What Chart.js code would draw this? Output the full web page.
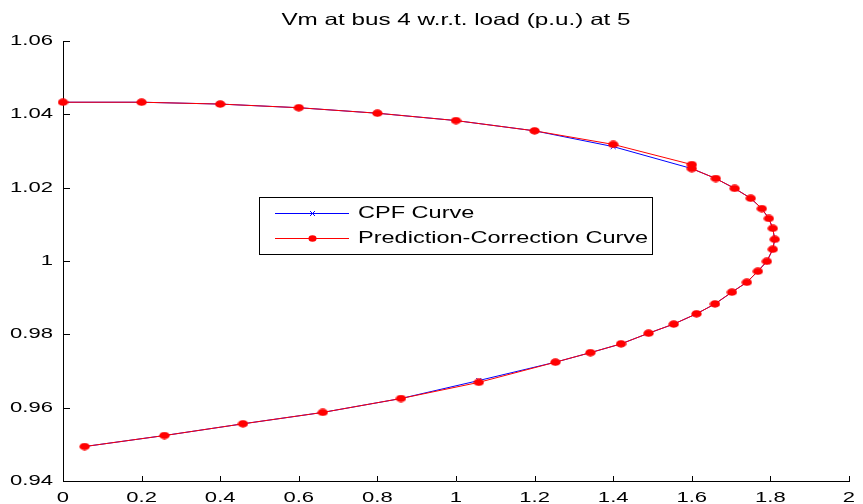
<!DOCTYPE html>
<html>
<head>
<meta charset="utf-8">
<script src="https://cdn.jsdelivr.net/npm/chart.js@4/dist/chart.umd.min.js"></script>
<style>
html,body{margin:0;padding:0;background:#fff;}
#wrap{width:863px;height:504px;}
</style>
</head>
<body>
<div id="wrap"><canvas id="c" width="863" height="504"></canvas></div>
<script>
// ---- data ----
const chartTitle = 'Vm at bus 4 w.r.t. load (p.u.) at 5';
const seriesNames = ['CPF Curve', 'Prediction-Correction Curve'];

const cpfX = [0,0.2,0.4,0.6,0.8,1.0,1.2,1.4,1.6,1.661,1.709,1.750,1.778,1.796,1.806,1.811,1.806,1.791,1.768,1.740,1.702,1.659,1.612,1.554,1.490,1.420,1.342,1.253,1.058,0.860,0.661,0.458,0.258,0.055];
const cpfY = [1.0433,1.0433,1.0428,1.0418,1.0403,1.0383,1.0355,1.0312,1.0252,1.0225,1.0198,1.0171,1.0143,1.0116,1.0089,1.0059,1.0032,0.9999,0.9972,0.9942,0.9915,0.9883,0.9856,0.9828,0.9803,0.9774,0.9750,0.9724,0.9674,0.9625,0.9587,0.9556,0.9524,0.9494];

const pcX = [0,0.2,0.4,0.6,0.8,1.0,1.2,1.4,1.6,1.6,1.661,1.709,1.750,1.778,1.796,1.806,1.811,1.806,1.791,1.768,1.740,1.702,1.659,1.612,1.554,1.490,1.420,1.342,1.253,1.058,0.860,0.661,0.458,0.258,0.055];
const pcY = [1.0433,1.0433,1.0428,1.0418,1.0403,1.0383,1.0355,1.0318,1.0263,1.0252,1.0225,1.0198,1.0171,1.0143,1.0116,1.0089,1.0059,1.0032,0.9999,0.9972,0.9942,0.9915,0.9883,0.9856,0.9828,0.9803,0.9774,0.9750,0.9724,0.9669,0.9625,0.9587,0.9556,0.9524,0.9494];

const xTickValues = [0,0.2,0.4,0.6,0.8,1,1.2,1.4,1.6,1.8,2];
const xTickLabels = ['0','0.2','0.4','0.6','0.8','1','1.2','1.4','1.6','1.8','2'];
const yTickValues = [0.94,0.96,0.98,1,1.02,1.04,1.06];
const yTickLabels = ['0.94','0.96','0.98','1','1.02','1.04','1.06'];

// ---- styling ----
const FONT = '"Liberation Sans", Arial, sans-serif';
const STRETCH = 1.47;
const BLUE = '#0000ff';
const RED = '#ff0000';

const canvas = document.getElementById('c');
const ctx = canvas.getContext('2d');
// text in the reference is horizontally stretched
const origFillText = ctx.fillText;
ctx.fillText = function(t, x, y, mw) {
  this.save();
  this.translate(x, y);
  this.scale(STRETCH, 1);
  origFillText.call(this, t, 0, 0);
  this.restore();
};

function ellipseImage(w, h, color) {
  const c = document.createElement('canvas');
  c.width = w; c.height = h;
  const g = c.getContext('2d');
  g.fillStyle = color;
  g.beginPath();
  g.ellipse(w/2, h/2, w/2 - 0.3, h/2 - 0.3, 0, 0, Math.PI*2);
  g.fill();
  return c;
}
const redDot = ellipseImage(11, 8, RED);

const zip = (xs, ys) => xs.map((x, i) => ({x: x, y: ys[i]}));

const tickPlugin = {
  id: 'inwardTicks',
  afterDraw(chart) {
    const c = chart.ctx;
    const xs = chart.scales.x, ys = chart.scales.y;
    const a = chart.chartArea;
    c.save();
    c.strokeStyle = '#000';
    c.lineWidth = 1;
    c.beginPath();
    xTickValues.forEach(v => {
      const px = Math.round(xs.getPixelForValue(v)) + 0.5;
      c.moveTo(px, a.bottom);
      c.lineTo(px, a.bottom - 5);
    });
    yTickValues.forEach(v => {
      const py = Math.round(ys.getPixelForValue(v)) + 0.5;
      c.moveTo(a.left, py);
      c.lineTo(a.left + 7, py);
    });
    c.stroke();

    // legend box
    const lx = 259.5, ly = 197.5, lw = 393, lh = 57;
    c.fillStyle = '#fff';
    c.fillRect(lx, ly, lw, lh);
    c.strokeStyle = '#000';
    c.strokeRect(lx, ly, lw, lh);
    const rows = [213, 238];
    c.font = '16px ' + FONT;
    c.textAlign = 'left';
    c.textBaseline = 'middle';
    // CPF
    c.strokeStyle = BLUE;
    c.beginPath();
    c.moveTo(275, rows[0] + 0.5); c.lineTo(349, rows[0] + 0.5);
    c.moveTo(310, rows[0] - 2); c.lineTo(315, rows[0] + 3);
    c.moveTo(315, rows[0] - 2); c.lineTo(310, rows[0] + 3);
    c.stroke();
    // PC
    c.strokeStyle = RED;
    c.beginPath();
    c.moveTo(275, rows[1] + 0.5); c.lineTo(349, rows[1] + 0.5);
    c.stroke();
    c.fillStyle = RED;
    c.beginPath();
    c.ellipse(312.5, rows[1] + 0.5, 4, 3.2, 0, 0, Math.PI*2);
    c.fill();
    c.fillStyle = '#000';
    c.fillText(seriesNames[0], 358, rows[0] + 1);
    c.fillText(seriesNames[1], 358, rows[1] + 1);
    c.restore();
  }
};

new Chart(ctx, {
  type: 'scatter',
  data: {
    datasets: [
      {
        label: seriesNames[0],
        data: zip(cpfX, cpfY),
        showLine: true,
        borderColor: BLUE,
        backgroundColor: BLUE,
        borderWidth: 1,
        pointStyle: 'crossRot',
        pointRadius: 3.5,
        pointBorderWidth: 1,
        pointBorderColor: BLUE,
        tension: 0,
        clip: false,
        order: 1
      },
      {
        label: seriesNames[1],
        data: zip(pcX, pcY),
        showLine: true,
        borderColor: RED,
        backgroundColor: RED,
        borderWidth: 1,
        pointStyle: redDot,
        pointRadius: 5,
        tension: 0,
        clip: false,
        order: 0
      }
    ]
  },
  options: {
    responsive: false,
    animation: false,
    devicePixelRatio: 1,
    layout: { padding: { left: 0, right: 14, top: 0, bottom: 0 } },
    plugins: {
      legend: { display: false },
      tooltip: { enabled: false },
      title: {
        display: true,
        text: chartTitle,
        fullSize: false,
        color: '#000',
        font: { family: FONT, size: 16.5, weight: 'normal' },
        padding: { top: 11, bottom: 10.2 }
      }
    },
    scales: {
      x: {
        type: 'linear',
        min: 0, max: 2,
        afterBuildTicks: s => { s.ticks = xTickValues.map(v => ({value: v})); },
        afterFit: s => { s.height = 23; },
        grid: { display: true, drawOnChartArea: false, drawTicks: false },
        border: { display: true, color: '#000', width: 1 },
        ticks: {
          color: '#000',
          padding: 8,
          maxRotation: 0,
          autoSkip: false,
          font: { family: FONT, size: 15 },
          callback: (v, i) => xTickLabels[i]
        }
      },
      y: {
        type: 'linear',
        min: 0.94, max: 1.06,
        afterBuildTicks: s => { s.ticks = yTickValues.map(v => ({value: v})); },
        afterFit: s => { s.width = 63; },
        grid: { display: true, drawOnChartArea: false, drawTicks: false },
        border: { display: true, color: '#000', width: 1 },
        ticks: {
          color: '#000',
          padding: 10,
          autoSkip: false,
          font: { family: FONT, size: 15 },
          callback: (v, i) => yTickLabels[i]
        }
      }
    }
  },
  plugins: [tickPlugin]
});
</script>
</body>
</html>
